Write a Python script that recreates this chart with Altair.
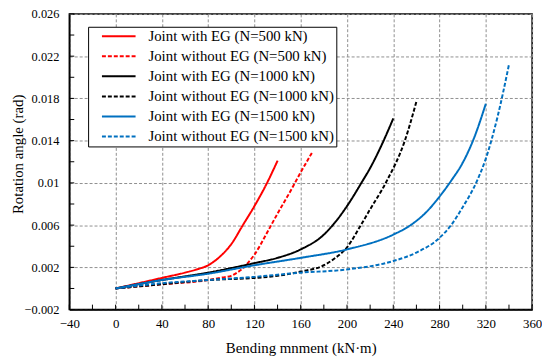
import altair as alt
import pandas as pd

series_names = [
    "Joint with EG (N=500 kN)",
    "Joint without EG (N=500 kN)",
    "Joint with EG (N=1000 kN)",
    "Joint without EG (N=1000 kN)",
    "Joint with EG (N=1500 kN)",
    "Joint without EG (N=1500 kN)",
]
series_colors = ["#FF0000", "#FF0000", "#000000", "#000000", "#0070C0", "#0070C0"]
series_dash = [[1, 0], [4, 2], [1, 0], [4, 2], [1, 0], [4, 2]]

# Bending moment (kN·m) and rotation angle (rad)
x_eg500 = [0, 20, 40, 60, 70, 80, 90, 100, 110, 120, 130, 140]
y_eg500 = [0, 0.0005, 0.001, 0.0015, 0.0018, 0.0022, 0.003, 0.0042, 0.006, 0.0078, 0.0098, 0.0121]

x_no500 = [0, 40, 80, 90, 100, 105, 110, 115, 120, 130, 140, 150, 160, 170]
y_no500 = [0, 0.0004, 0.0008, 0.001, 0.0012, 0.0015, 0.0019, 0.0025, 0.0032, 0.0051, 0.0071, 0.009, 0.011, 0.0129]

x_eg1000 = [0, 40, 80, 120, 140, 160, 180, 190, 200, 213, 220, 230, 240]
y_eg1000 = [0, 0.0008, 0.0015, 0.0024, 0.0029, 0.0037, 0.0051, 0.0063, 0.0078, 0.0101, 0.0114, 0.0136, 0.0161]

x_no1000 = [0, 40, 80, 120, 140, 160, 180, 190, 200, 212, 220, 234, 250, 260]
y_no1000 = [0, 0.0004, 0.0008, 0.001, 0.0012, 0.0016, 0.0022, 0.0029, 0.0039, 0.006, 0.0075, 0.0101, 0.014, 0.0177]

x_eg1500 = [0, 40, 80, 120, 160, 200, 240, 255, 270, 280, 290, 300, 310, 320]
y_eg1500 = [0, 0.0008, 0.0014, 0.0022, 0.0029, 0.0037, 0.0051, 0.006, 0.0074, 0.0087, 0.0102, 0.0119, 0.0143, 0.0175]

x_no1500 = [0, 40, 80, 120, 160, 200, 240, 260, 280, 290, 300, 312, 320, 330, 340]
y_no1500 = [0, 0.0005, 0.0008, 0.0011, 0.0015, 0.0018, 0.0026, 0.0034, 0.0048, 0.006, 0.0077, 0.0101, 0.0123, 0.0162, 0.0212]

xs = [x_eg500, x_no500, x_eg1000, x_no1000, x_eg1500, x_no1500]
ys = [y_eg500, y_no500, y_eg1000, y_no1000, y_eg1500, y_no1500]

rows = []
for name, xv, yv in zip(series_names, xs, ys):
    for i, (a, b) in enumerate(zip(xv, yv)):
        rows.append({"series": name, "moment": a, "rotation": b, "order": i})
df = pd.DataFrame(rows)

x_major = [-40, 0, 40, 80, 120, 160, 200, 240, 280, 320, 360]
y_major = [-0.002, 0.002, 0.006, 0.01, 0.014, 0.018, 0.022, 0.026]
x_minor = list(range(-40, 361, 20))
y_minor = [-0.002, 0.0, 0.002, 0.004, 0.006, 0.008, 0.01, 0.012, 0.014, 0.016,
           0.018, 0.02, 0.022, 0.024, 0.026]

W, H = 468, 299
FONT = "Liberation Serif"

xscale = alt.Scale(domain=[-40, 360], nice=False, zero=False)
yscale = alt.Scale(domain=[-0.002, 0.026], nice=False, zero=False)

legend_kw = dict(title=None, orient="none", legendX=19, legendY=13,
                 symbolType="stroke", symbolSize=1156,
                 symbolStrokeWidth=2, clipHeight=15, rowPadding=4.3,
                 symbolOffset=11, labelOffset=12,
                 labelFontSize=15, labelFont=FONT, labelColor="black",
                 labelLimit=400,
                 labelExpr="datum.label + '\u00a0\u00a0\u00a0'",
                 strokeColor="black", padding=2, fillColor="white")

lines = alt.Chart(df).mark_line(strokeWidth=2, interpolate="monotone", clip=True).encode(
    x=alt.X("moment:Q", scale=xscale,
            axis=alt.Axis(values=x_major, title="Bending mnment (kN·m)",
                          grid=True, gridColor="#8f8f8f", gridDash=[3, 2], gridWidth=1,
                          ticks=False, labelPadding=8, labelFontSize=13,
                          labelFont=FONT, titleFont=FONT,
                          labelColor="black", titleColor="black",
                          titleFontSize=15, titleFontWeight="normal",
                          titleY=43.5, titleBaseline="alphabetic",
                          domainColor="black", domainWidth=1.5,
                          labelFlush=False)),
    y=alt.Y("rotation:Q", scale=yscale,
            axis=alt.Axis(values=y_major, title="Rotation angle (rad)",
                          format=".3~f",
                          grid=True, gridColor="#8f8f8f", gridDash=[3, 2], gridWidth=1,
                          ticks=False, labelPadding=10.5, labelFontSize=12.5,
                          labelFont=FONT, titleFont=FONT,
                          labelColor="black", titleColor="black",
                          titleFontSize=15, titleFontWeight="normal",
                          titleX=-47, titleY=141.5, titleBaseline="alphabetic",
                          titleAngle=270,
                          domainColor="black", domainWidth=1.5,
                          labelFlush=False)),
    color=alt.Color("series:N",
                    scale=alt.Scale(domain=series_names, range=series_colors),
                    legend=alt.Legend(**legend_kw)),
    strokeDash=alt.StrokeDash("series:N",
                              scale=alt.Scale(domain=series_names, range=series_dash),
                              legend=alt.Legend(**legend_kw)),
    order="order:Q",
)

xt = alt.Chart(pd.DataFrame({"t": x_minor})).mark_rule(color="black", strokeWidth=1).encode(
    x=alt.X("t:Q", scale=xscale), y=alt.value(H - 5), y2=alt.value(H))
yt = alt.Chart(pd.DataFrame({"t": y_minor})).mark_rule(color="black", strokeWidth=1).encode(
    y=alt.Y("t:Q", scale=yscale), x=alt.value(0), x2=alt.value(5))

chart = alt.layer(xt, yt, lines).properties(
    width=W, height=H,
    background="white",
    autosize=alt.AutoSizeParams(type="none"),
    padding={"left": 62, "top": 4, "right": 10, "bottom": 51},
).configure_view(stroke="black", strokeWidth=1.5)

chart.save("out.html", embed_options={"renderer": "svg", "actions": False})
